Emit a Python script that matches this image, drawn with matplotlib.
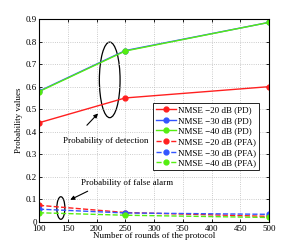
import matplotlib
matplotlib.use("Agg")
from matplotlib import pyplot as plt
from matplotlib.patches import Ellipse

rounds = [100, 250, 500]
pd_20 = [0.44, 0.55, 0.60]
pd_30 = [0.58, 0.76, 0.885]
pd_40 = [0.578, 0.758, 0.885]
pfa_20 = [0.074, 0.042, 0.025]
pfa_30 = [0.057, 0.040, 0.034]
pfa_40 = [0.041, 0.030, 0.020]

labels = ["NMSE \u221220 dB (PD)", "NMSE \u221230 dB (PD)", "NMSE \u221240 dB (PD)",
          "NMSE \u221220 dB (PFA)", "NMSE \u221230 dB (PFA)", "NMSE \u221240 dB (PFA)"]
red, blue, green = "#ff2020", "#3355ff", "#55ee11"

plt.rcParams['font.family'] = ['Liberation Serif', 'DejaVu Serif']
plt.rcParams['font.size'] = 6.5

fig = plt.figure(figsize=(2.97, 2.5), dpi=100)
ax = fig.add_axes([39 / 297, 28 / 250, 230 / 297, 203 / 250])

ms = 3.5
ax.plot(rounds, pd_20, '-o', color=red, lw=1, ms=ms, label=labels[0])
ax.plot(rounds, pd_30, '-o', color=blue, lw=1, ms=ms, label=labels[1])
ax.plot(rounds, pd_40, '-o', color=green, lw=1, ms=ms, label=labels[2])
ax.plot(rounds, pfa_20, '--o', color=red, lw=1, ms=ms, label=labels[3])
ax.plot(rounds, pfa_30, '--o', color=blue, lw=1, ms=ms, label=labels[4])
ax.plot(rounds, pfa_40, '--o', color=green, lw=1, ms=ms, label=labels[5])

ax.set_xlim(100, 500)
ax.set_ylim(0, 0.9)
ax.set_xticks(range(100, 501, 50))
ax.set_yticks([i / 10 for i in range(10)])
ax.set_yticklabels(["0"] + ["%.1f" % (i / 10) for i in range(1, 10)])
ax.tick_params(direction='in', top=True, right=True, length=2.5, width=0.6, pad=1.5)
ax.tick_params(axis='x', pad=2.5)
for s in ax.spines.values():
    s.set_linewidth(0.8)
ax.grid(True, linestyle=':', color='#bbbbbb', linewidth=0.6)
ax.set_xlabel("Number of rounds of the protocol", labelpad=-1)
ax.set_ylabel("Probability values", labelpad=2)

# annotations
ax.add_patch(Ellipse((223, 0.63), 36, 0.335, fill=False, lw=0.9, color='black'))
ax.annotate("", xy=(206, 0.49), xytext=(180, 0.42),
            arrowprops=dict(arrowstyle='-|>', color='black', lw=0.8, mutation_scale=6))
ax.text(142, 0.36, "Probability of detection", va='center', ha='left')

ax.add_patch(Ellipse((138, 0.062), 14, 0.10, fill=False, lw=0.9, color='black'))
ax.annotate("", xy=(150, 0.093), xytext=(189, 0.142),
            arrowprops=dict(arrowstyle='-|>', color='black', lw=0.8, mutation_scale=6))
ax.text(173, 0.173, "Probability of false alarm", va='center', ha='left')

leg = ax.legend(loc='lower right', bbox_to_anchor=(0.957, 0.256), fontsize=6.5,
                frameon=True, fancybox=False, edgecolor='black', framealpha=1,
                handlelength=2.2, handletextpad=0.3, labelspacing=0.25,
                borderpad=0.3, borderaxespad=0)
leg.get_frame().set_linewidth(0.6)

fig.savefig("out.png", dpi=100)
